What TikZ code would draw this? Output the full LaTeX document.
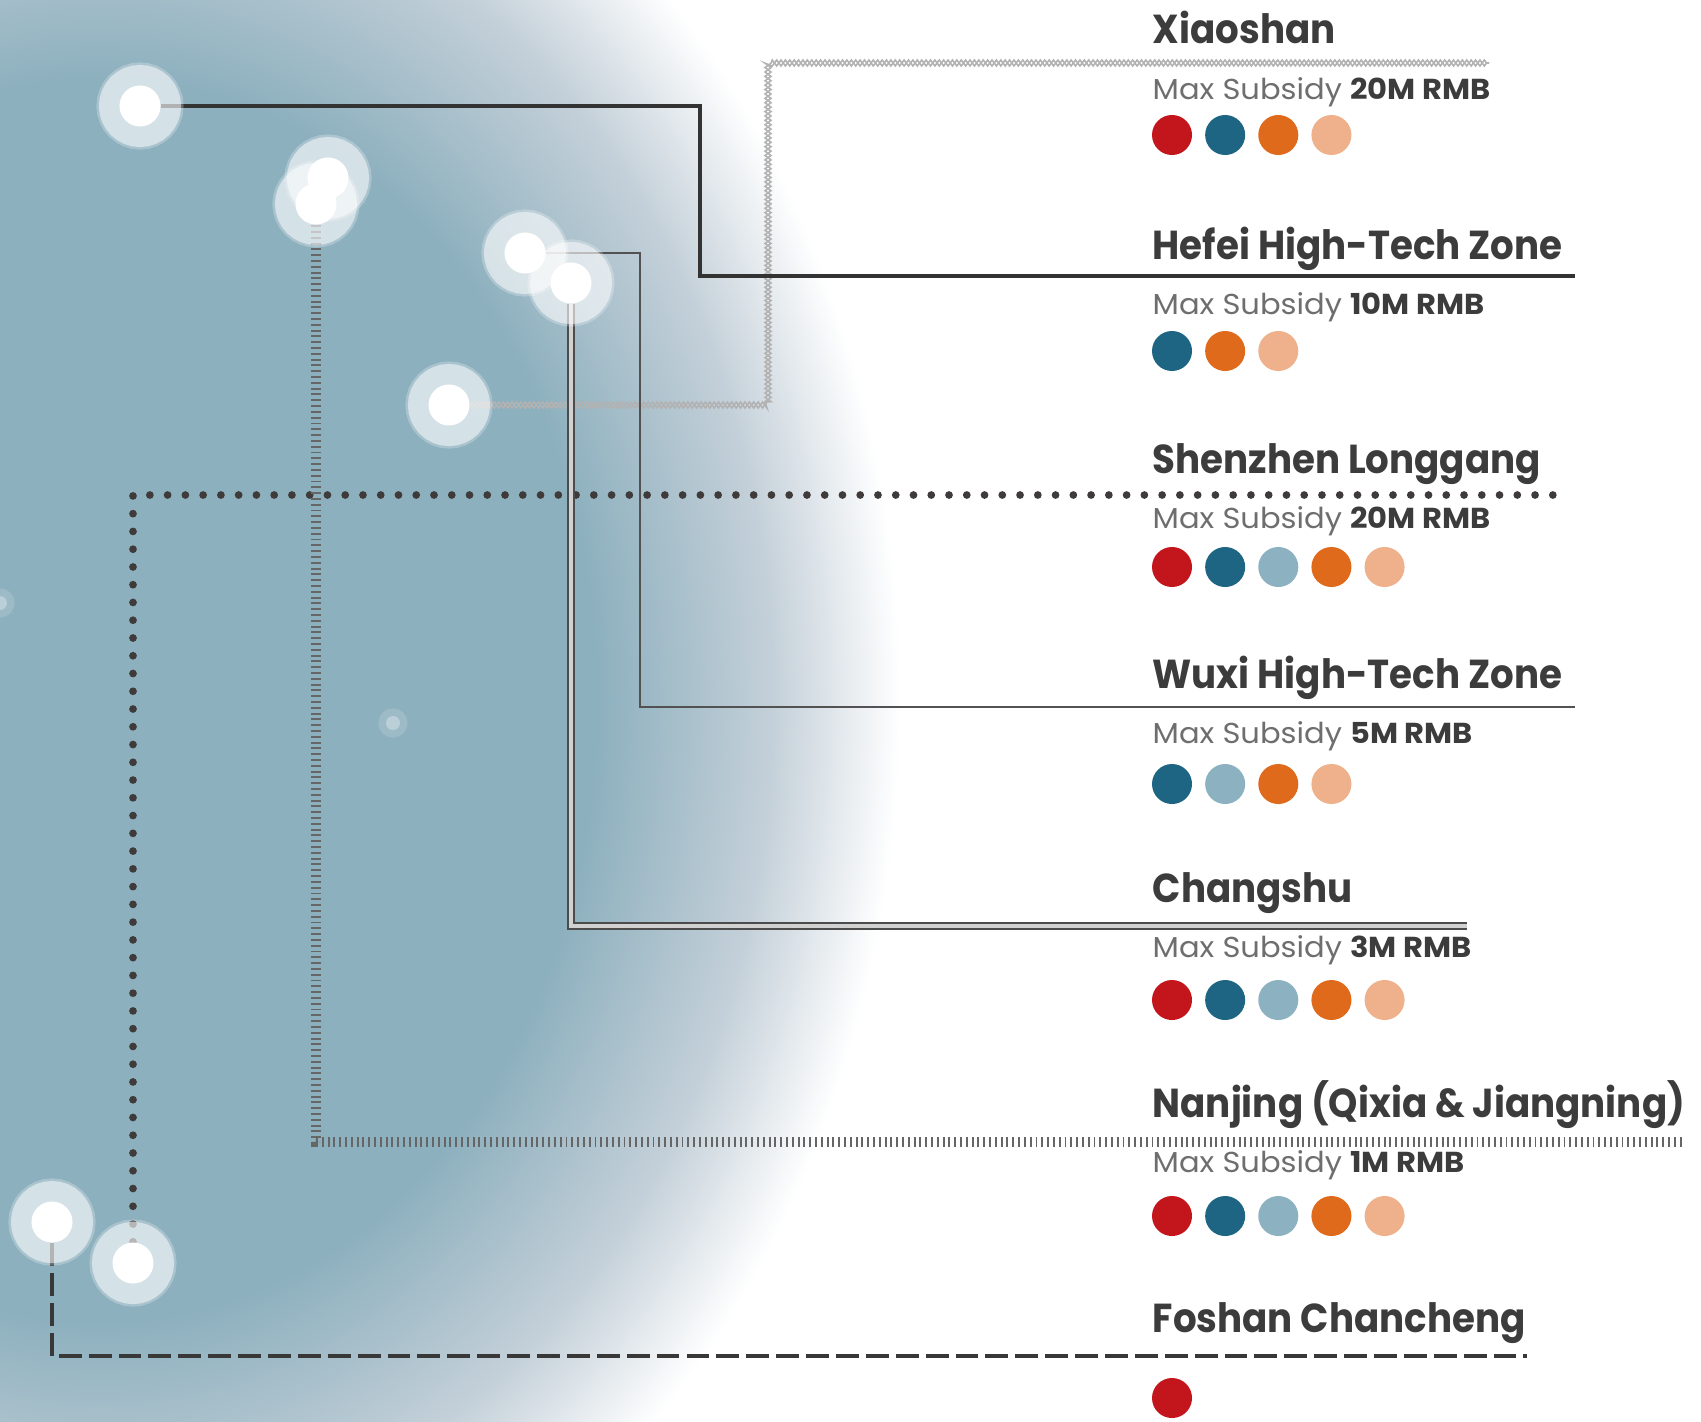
\documentclass[tikz,border=0pt]{standalone}
\usepackage{fontspec}
\setmainfont{Poppins}
\newfontfamily\titlefont{Poppins}[FakeStretch=0.92]
\newfontfamily\subfont{Poppins}[FakeStretch=1.06]
\usepackage{xcolor}
\usepackage{tikz}
\usetikzlibrary{positioning}
\usetikzlibrary{decorations.pathmorphing}
\definecolor{bgteal}{HTML}{8DB0BE}
\definecolor{bgmid}{HTML}{C4D0D9}
\definecolor{dotred}{HTML}{C3161C}
\definecolor{dotteal}{HTML}{1D6582}
\definecolor{dotlight}{HTML}{8CB2C1}
\definecolor{dotorange}{HTML}{E06A1B}
\definecolor{dotpeach}{HTML}{EFB18B}
\definecolor{txtdark}{HTML}{3C3C3C}
\definecolor{txtgrey}{HTML}{6E6E6E}
\definecolor{linedot}{HTML}{403B3B}
\pgfdeclareradialshading{blob}{\pgfpoint{0bp}{0bp}}{color(0bp)=(bgteal); color(15.5bp)=(bgteal); color(21bp)=(bgmid); color(25bp)=(white); color(50bp)=(white)}
\pgfdeclarelayer{bg}
\pgfdeclarelayer{wires}
\pgfsetlayers{bg,wires,main}
\newcommand{\myval}[1]{\textcolor{txtdark}{\bfseries #1}}
\tikzset{
    mytitle/.style = {anchor=base west, inner sep=0pt, text=txtdark, font=\titlefont\fontsize{11.5}{14}\selectfont\bfseries},
    mysub/.style = {anchor=base west, inner sep=0pt, text=txtgrey, font=\subfont\fontsize{8.2}{10}\selectfont},
    mydot/.style = {circle, inner sep=0pt, minimum size=4mm},
    myred/.style = {mydot, fill=dotred},
    myteal/.style = {mydot, fill=dotteal},
    mylight/.style = {mydot, fill=dotlight},
    myorange/.style = {mydot, fill=dotorange},
    mypeach/.style = {mydot, fill=dotpeach},
    myglow/.style = {circle, inner sep=0pt, minimum size=4.1mm, fill=white,
                     preaction={draw=white, draw opacity=0.5, line width=4.1mm},
                     preaction={draw=white, draw opacity=0.25, line width=4.6mm}},
    myfaint/.style = {circle, inner sep=0pt, minimum size=1.4mm, fill=white, fill opacity=0.3, preaction={draw=white, draw opacity=0.15, line width=1.5mm}},
    xiaoline/.style = {postaction={draw=gray!60, line width=0.45pt, decorate, decoration={zigzag, amplitude=0.85pt, segment length=2.5pt}},
                       postaction={draw=gray!60, line width=0.45pt, decorate, decoration={zigzag, mirror, amplitude=0.85pt, segment length=2.5pt}}},
    hefeiline/.style = {draw=black!80, line width=1.15pt},
    shenline/.style = {draw=linedot, line width=2.2pt, line cap=round, dash pattern=on 0pt off 5.05pt},
    wuxiline/.style = {draw=black!68, line width=0.7pt},
    changline/.style = {draw=black!70, line width=0.55pt, double=black!18, double distance=1.1pt},
    nanline/.style = {draw=black!60, line width=2.6pt, dash pattern=on 0.55pt off 1.1pt},
    foshanline/.style = {draw=black!78, line width=1.4pt, dash pattern=on 6.5pt off 2pt},
}
\begin{document}
\begin{tikzpicture}[x=0.01cm, y=-0.01cm, node distance=1.17mm]
  \useasboundingbox (0,0) rectangle (1701,1421);
  \begin{pgfonlayer}{bg}
    \begin{scope}
      \clip (0,0) rectangle (1701,1421);
      \shade[shading=blob] (100,700) ellipse [x radius=8cm, y radius=10cm];
    \end{scope}
  \end{pgfonlayer}

  \node[myglow] (hefeiDot) at (140,106) {};
  \node[myglow] (twinDot) at (328,178) {};
  \node[myglow] (nanDot) at (316,204) {};
  \node[myglow] (wuxiDot) at (525,253) {};
  \node[myglow] (changDot) at (571,283) {};
  \node[myglow] (xiaoDot) at (449,405) {};
  \node[myglow] (foshanDot) at (52,1222) {};
  \node[myglow] (shenDot) at (133,1263) {};
  \node[myfaint] (faintA) at (393,723) {};
  \node[myfaint] (faintB) at (0,603) {};

  \node[mytitle] (xiao) at (1152,44) {Xiaoshan};
  \node[mysub] (xiaoSub) at (1152,99) {Max Subsidy \myval{20M RMB}};
  \node[myred] (xiao1) at (1172,135) {};
  \node[myteal, right=of xiao1] (xiao2) {};
  \node[myorange, right=of xiao2] (xiao3) {};
  \node[mypeach, right=of xiao3] (xiao4) {};

  \node[mytitle] (hefei) at (1152,259) {Hefei High-Tech Zone};
  \node[mysub] (hefeiSub) at (1152,314) {Max Subsidy \myval{10M RMB}};
  \node[myteal] (hefei1) at (1172,351) {};
  \node[myorange, right=of hefei1] (hefei2) {};
  \node[mypeach, right=of hefei2] (hefei3) {};

  \node[mytitle] (shen) at (1152,473) {Shenzhen Longgang};
  \node[mysub] (shenSub) at (1152,528) {Max Subsidy \myval{20M RMB}};
  \node[myred] (shen1) at (1172,567) {};
  \node[myteal, right=of shen1] (shen2) {};
  \node[mylight, right=of shen2] (shen3) {};
  \node[myorange, right=of shen3] (shen4) {};
  \node[mypeach, right=of shen4] (shen5) {};

  \node[mytitle] (wuxi) at (1152,688) {Wuxi High-Tech Zone};
  \node[mysub] (wuxiSub) at (1152,743) {Max Subsidy \myval{5M RMB}};
  \node[myteal] (wuxi1) at (1172,784) {};
  \node[mylight, right=of wuxi1] (wuxi2) {};
  \node[myorange, right=of wuxi2] (wuxi3) {};
  \node[mypeach, right=of wuxi3] (wuxi4) {};

  \node[mytitle] (chang) at (1152,902) {Changshu};
  \node[mysub] (changSub) at (1152,957) {Max Subsidy \myval{3M RMB}};
  \node[myred] (chang1) at (1172,1000) {};
  \node[myteal, right=of chang1] (chang2) {};
  \node[mylight, right=of chang2] (chang3) {};
  \node[myorange, right=of chang3] (chang4) {};
  \node[mypeach, right=of chang4] (chang5) {};

  \node[mytitle] (nan) at (1152,1117) {Nanjing (Qixia \& Jiangning)};
  \node[mysub] (nanSub) at (1152,1172) {Max Subsidy \myval{1M RMB}};
  \node[myred] (nan1) at (1172,1216) {};
  \node[myteal, right=of nan1] (nan2) {};
  \node[mylight, right=of nan2] (nan3) {};
  \node[myorange, right=of nan3] (nan4) {};
  \node[mypeach, right=of nan4] (nan5) {};

  \node[mytitle] (foshan) at (1152,1332) {Foshan Chancheng};
  \node[myred] (foshan1) at (1172,1398) {};

  \coordinate (xiaoBend) at (768,63);
  \coordinate (xiaoEnd) at (1489,63);
  \coordinate (hefeiBend) at (700,276);
  \coordinate (hefeiEnd) at (1575,276);
  \coordinate (shenEnd) at (1554,495);
  \coordinate (wuxiBend) at (640,707);
  \coordinate (wuxiEnd) at (1575,707);
  \coordinate (changEnd) at (1467,926);
  \coordinate (nanEnd) at (1684,1142);
  \coordinate (foshanEnd) at (1527,1356);

  \begin{pgfonlayer}{wires}
    \path[xiaoline] (xiaoDot) -| (xiaoBend) -- (xiaoEnd);
    \draw[hefeiline] (hefeiDot) -| (hefeiBend) -- (hefeiEnd);
    \draw[shenline] (shenDot) |- (shenEnd);
    \draw[wuxiline] (wuxiDot) -| (wuxiBend) -- (wuxiEnd);
    \draw[changline] (changDot) |- (changEnd);
    \draw[nanline] (nanDot) |- (nanEnd);
    \draw[foshanline] (foshanDot) |- (foshanEnd);
  \end{pgfonlayer}
\end{tikzpicture}
\end{document}
